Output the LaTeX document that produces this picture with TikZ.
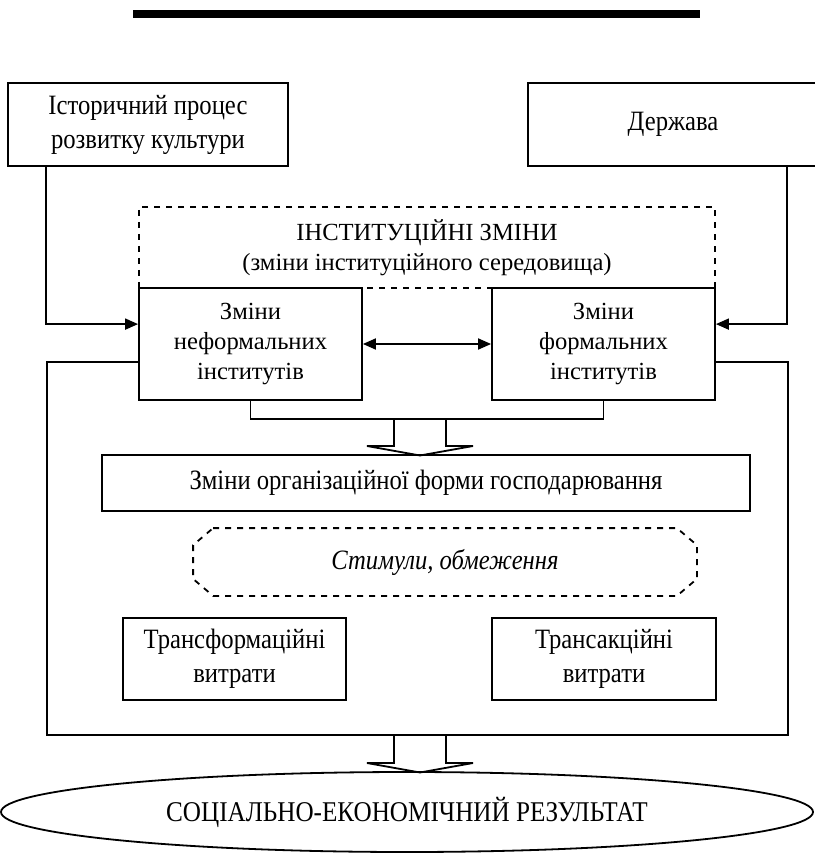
\documentclass[tikz,border=0pt]{standalone}
\usepackage{fontspec}
\setmainfont{Liberation Serif}
\newfontfamily\condfont[FakeStretch=0.88]{Liberation Serif}
\usetikzlibrary{positioning,shapes.geometric,arrows.meta}

\begin{document}
\begin{tikzpicture}[x=0.5pt, y=-0.5pt, line width=0.9pt,
  every node/.style={align=center, font=\fontsize{12.3}{14.8}\selectfont},
  box/.style={draw, inner sep=0pt},
  cond/.style={font=\condfont\fontsize{14}{17}\selectfont},
  arr/.style={-{Triangle[length=6.5pt,width=5.5pt]}},
  hollowarrow/.pic={\draw (-26,0) -- (-26,28) -- (-53,28) -- (0,37.5) -- (53,28) -- (26,28) -- (26,0);}]
\useasboundingbox (0,0) rectangle (814,860);

% Top bar
\fill (133,10) rectangle (700,18);

% Sources
\node[box, cond, minimum width=140pt, minimum height=41.5pt] (hist) at (148,124.5) {Історичний процес\\розвитку культури};
\node[box, cond, minimum width=145pt, minimum height=41.5pt] (derzh) at (673,124.5) {Держава};

% Institutional changes
\node[box, dashed, minimum width=288pt, minimum height=40.5pt] (inst) at (427,247.5) {ІНСТИТУЦІЙНІ ЗМІНИ\\(зміни інституційного середовища)};
\node[box, fill=white, minimum width=111.5pt, minimum height=56pt] (infl) at (250.5,344) {Зміни\\неформальних\\інститутів};
\node[box, fill=white, minimum width=111.5pt, minimum height=56pt] (forml) at (603.5,344) {Зміни\\формальних\\інститутів};

% Organisational form
\node[box, cond, minimum width=324pt, minimum height=28pt] (org) at (426,483) {Зміни організаційної форми господарювання};

% Incentives
\node[cond, minimum width=251pt, minimum height=33pt, inner sep=0pt] (stim) at (445,562) {\itshape Стимули, обмеження};
\draw[dashed] ([xshift=10pt]stim.north west) -- ([xshift=-10pt]stim.north east) -- ([yshift=-8.5pt]stim.north east) -- ([yshift=8.5pt]stim.south east) -- ([xshift=-10pt]stim.south east) -- ([xshift=10pt]stim.south west) -- ([yshift=8.5pt]stim.south west) -- ([yshift=-8.5pt]stim.north west) -- cycle;

% Costs
\node[box, cond, minimum width=111.5pt, minimum height=41pt] (trf) at (234.5,659) {Трансформаційні\\витрати};
\node[box, cond, minimum width=112pt, minimum height=41pt] (trs) at (604,659) {Трансакційні\\витрати};

% Result
\node[draw, ellipse, font=\condfont\fontsize{14.3}{17}\selectfont, minimum width=406pt, minimum height=40pt, inner sep=0pt] (res) at (407,812) {СОЦІАЛЬНО-ЕКОНОМІЧНИЙ РЕЗУЛЬТАТ};

% Arrows
\draw[arr] ([xshift=19.5pt]hist.south west) |- ([yshift=-18.5pt]infl.north west);
\draw[arr] ([xshift=130pt]derzh.south west) |- ([yshift=-18.5pt]forml.north east);
\draw[{Triangle[length=6.5pt,width=5.5pt]}-{Triangle[length=6.5pt,width=5.5pt]}] (infl) -- (forml);
\draw (infl.south) -- ++(0,18) -| (forml.south);
\pic at (420,418) {hollowarrow};
\coordinate (lb) at (47,735);
\coordinate (rb) at (788,735);
\draw ([yshift=-37.5pt]infl.north west) -| (lb) -- (rb) |- ([yshift=-37.5pt]forml.north east);
\pic at (420,735) {hollowarrow};
\end{tikzpicture}
\end{document}
